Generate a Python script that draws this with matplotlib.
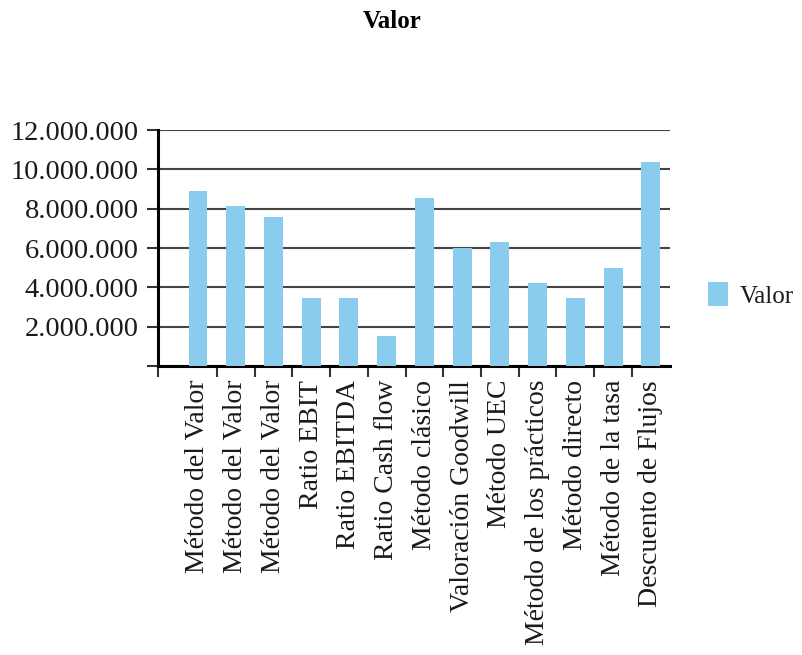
import numpy as np
import matplotlib.pyplot as plt
from matplotlib.ticker import FuncFormatter

metodos = ['Método del Valor', 'Método del Valor', 'Método del Valor', 'Ratio EBIT',
           'Ratio EBITDA', 'Ratio Cash flow', 'Método clásico', 'Valoración Goodwill',
           'Método UEC', 'Método de los prácticos', 'Método directo', 'Método de la tasa',
           'Descuento de Flujos']
valor = [8900000, 8130000, 7570000, 3460000, 3460000, 1530000, 8540000,
         6000000, 6300000, 4220000, 3460000, 4980000, 10370000]
y_ticks = [0, 2000000, 4000000, 6000000, 8000000, 10000000, 12000000]

plt.rcParams['font.family'] = ['Liberation Serif', 'DejaVu Serif']

def miles(v, pos):
    if v == 0:
        return ''
    return '{:,.0f}'.format(v).replace(',', '.')

fig = plt.figure(figsize=(8.02, 6.55), dpi=100)
ax = fig.add_axes([0.197, 0.4412, 0.638, 0.3603])

x = np.arange(len(metodos))
ax.bar(x, valor, width=0.5, color='#89CCEE', label='Valor', zorder=3)

left = -1.06
ax.set_xlim(left, len(metodos) - 0.5)
ax.set_ylim(0, 12000000)
ax.set_yticks(y_ticks)
ax.yaxis.set_major_formatter(FuncFormatter(miles))
ax.grid(axis='y', color='#444444', linewidth=1.5, zorder=0)

ax.set_xticks(x)
ax.set_xticklabels(metodos, rotation=90, fontsize=20)
ax.tick_params(axis='x', which='major', length=0, pad=10, labelcolor='#1a1a1a')
ax.set_xticks([left] + list(x[:-1] + 0.5), minor=True)
ax.tick_params(axis='x', which='minor', length=8, width=1.5, color='#333333')
ax.tick_params(axis='y', length=8, width=1.5, labelsize=20.5, pad=6,
               color='#333333', labelcolor='#1a1a1a')

for s in ['top', 'right']:
    ax.spines[s].set_visible(False)
ax.spines['left'].set_linewidth(2.2)
ax.spines['bottom'].set_linewidth(2.2)

ax.legend(loc='center left', bbox_to_anchor=(1.03, 0.30), frameon=False,
          fontsize=18, handlelength=0.8, handleheight=1.1, handletextpad=0.5,
          borderaxespad=0.5, labelcolor='#1a1a1a')

fig.suptitle('Valor', fontsize=18, fontweight='bold', x=0.489, y=0.985)

fig.savefig('out.png', dpi=100)
